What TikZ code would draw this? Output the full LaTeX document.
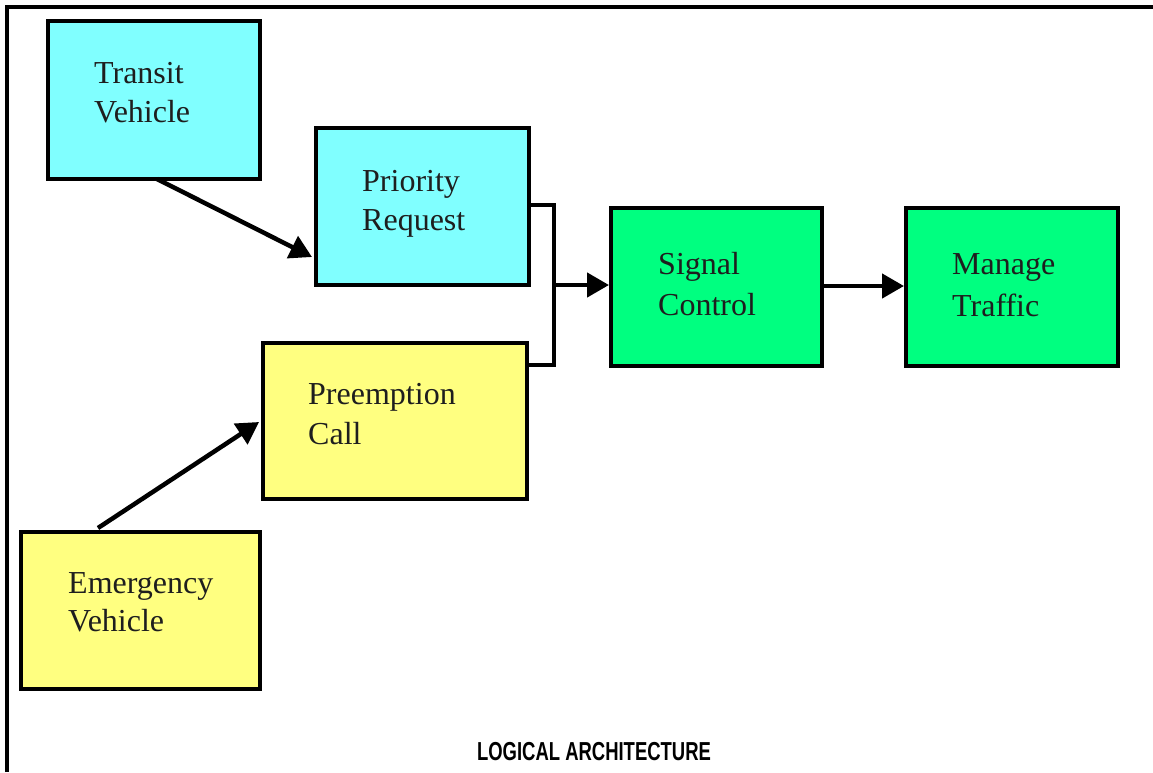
\documentclass[tikz,border=0pt]{standalone}
\usepackage{fontspec}
\setmainfont{Liberation Serif}
\newfontfamily\arialfont{Liberation Sans}
\usetikzlibrary{arrows.meta}
\definecolor{cyanbox}{RGB}{128,255,255}
\definecolor{yellowbox}{RGB}{255,255,128}
\definecolor{greenbox}{RGB}{0,255,128}
\definecolor{txt}{RGB}{30,30,30}
\tikzset{
  box/.style={draw=black, line width=4pt, rectangle, inner sep=0pt, anchor=north west},
  lbl/.style={anchor=base west, inner sep=0pt, text=txt, font=\fontsize{32}{40}\selectfont},
  conn/.style={line width=4.5pt, draw=black},
  arr/.style={conn, -{Triangle[length=22pt,width=24pt]}},
}
\begin{document}
\begin{tikzpicture}[x=1pt,y=-1pt]
\useasboundingbox (0,0) rectangle (1153,772);
% frame
\coordinate (f0) at (7,772);
\coordinate (f1) at (7,7);
\coordinate (f2) at (1153,7);
\draw[line width=4pt] (f0) -- (f1) -- (f2);

% boxes
\node[box, fill=cyanbox, minimum width=212pt, minimum height=158pt] (tv) at (46,19) {};
\node[box, fill=cyanbox, minimum width=213pt, minimum height=157pt] (pr) at (314,126) {};
\node[box, fill=yellowbox, minimum width=264pt, minimum height=156pt] (pc) at (261,341) {};
\node[box, fill=yellowbox, minimum width=239pt, minimum height=157pt] (ev) at (19,530) {};
\node[box, fill=greenbox, minimum width=211pt, minimum height=158pt] (sc) at (609,206) {};
\node[box, fill=greenbox, minimum width=212pt, minimum height=158pt] (mt) at (904,206) {};

% labels
\node[lbl] (tv1) at (94,83) {Transit};
\node[lbl] (tv2) at (94,122) {Vehicle};
\node[lbl] (pr1) at (362,191) {Priority};
\node[lbl] (pr2) at (362,230) {Request};
\node[lbl] (pc1) at (308,404) {Preemption};
\node[lbl] (pc2) at (308,444) {Call};
\node[lbl] (ev1) at (68,593) {Emergency};
\node[lbl] (ev2) at (68,631) {Vehicle};
\node[lbl] (sc1) at (658,274) {Signal};
\node[lbl] (sc2) at (658,315) {Control};
\node[lbl] (mt1) at (952,274) {Manage};
\node[lbl] (mt2) at (952,316) {Traffic};

% connectors
\coordinate (tvs) at (157,179);
\coordinate (evs) at (98,528);
\coordinate (prt) at (312,257);
\coordinate (pct) at (259,422);
\draw[arr] (tvs) -- (prt);
\draw[arr] (evs) -- (pct);

\coordinate (jt) at (554,205);
\coordinate (jb) at (554,365);
\coordinate (jm) at (554,285);
\draw[conn] (jt -| pr.east) -- (jt) -- (jb) -- (jb -| pc.east);
\draw[arr] (jm) -- (jm -| sc.west);
\coordinate (sm) at (822,286);
\draw[arr] (sm -| sc.east) -- (sm -| mt.west);

% title
\node[anchor=base, inner sep=0pt, font=\arialfont\bfseries\fontsize{26}{30}\selectfont, xscale=0.71] (title) at (594,760) {LOGICAL ARCHITECTURE};
\end{tikzpicture}
\end{document}
